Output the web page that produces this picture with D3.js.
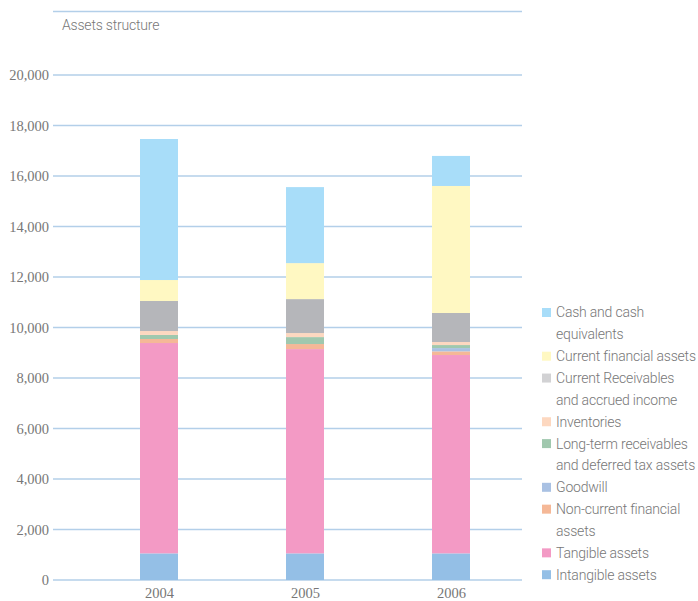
<!DOCTYPE html>
<html>
<head>
<meta charset="utf-8">
<script src="https://cdn.jsdelivr.net/npm/d3@7"></script>
<style>
  body { margin: 0; background: #fff; }
  svg { display: block; }
  .axis text { font-family: "Liberation Serif", serif; font-size: 14.5px; fill: #777; }
  .axis path, .axis line { display: none; }
  .legend text { font-family: Roboto, "Liberation Sans", sans-serif; font-weight: 300; font-size: 14px; letter-spacing: -0.2px; fill: #777; }
</style>
</head>
<body>
<svg id="chart" width="698" height="601"></svg>
<script>
const svg = d3.select('#chart')

const years = ['2004', '2005', '2006']

// stacked from bottom to top
const seriesNames = [
    'Intangible assets', 'Tangible assets', 'Non-current financial assets', 'Goodwill',
    'Long-term receivables and deferred tax assets', 'Inventories',
    'Current Receivables and accrued income', 'Current financial assets', 'Cash and cash equivalents'
]
const intangible = [1055, 1055, 1055]
const tangible = [8330, 8090, 7855]
const nonCurrentFinancial = [160, 200, 145]
const goodwill = [0, 0, 130]
const longTermReceivables = [160, 275, 120]
const inventories = [155, 160, 120]
const currentReceivables = [1190, 1345, 1150]
const currentFinancial = [830, 1425, 5030]
const cash = [5585, 3010, 1190]

const seriesValues = [intangible, tangible, nonCurrentFinancial, goodwill, longTermReceivables,
    inventories, currentReceivables, currentFinancial, cash]

const colors = ['#94bfe6', '#f39ac5', '#f5b897', '#a9c1e3', '#a0c8ae', '#fdd8c0', '#b5b6ba', '#fff8c2', '#a8ddf9']
const legendColors = ['#94bfe6', '#f39ac5', '#f5b897', '#a9c1e3', '#a0c8ae', '#fdd8c0', '#d2d2d4', '#fff8c2', '#a8ddf9']

// legend lines, top to bottom (series index, wrapped text)
const legendLines = [
    [8, ['Cash and cash', 'equivalents']],
    [7, ['Current financial assets']],
    [6, ['Current Receivables', 'and accrued income']],
    [5, ['Inventories']],
    [4, ['Long-term receivables', 'and deferred tax assets']],
    [3, ['Goodwill']],
    [2, ['Non-current financial', 'assets']],
    [1, ['Tangible assets']],
    [0, ['Intangible assets']]
]

const yTicks = [0, 2000, 4000, 6000, 8000, 10000, 12000, 14000, 16000, 18000, 20000]

const gridLeft = 53, gridRight = 522
const yScale = d3.scaleLinear().domain([0, 20000]).range([580, 75])
const xScale = d3.scalePoint().domain(years).range([159, 451])
const barWidth = 38

const table = years.map((y, i) => {
    const row = {year: y}
    seriesNames.forEach((s, j) => row[s] = seriesValues[j][i])
    return row
})
const stacked = d3.stack().keys(seriesNames)(table)

// title line + title
svg.append('line')
    .attr('x1', gridLeft).attr('x2', gridRight)
    .attr('y1', 11.5).attr('y2', 11.5)
    .attr('stroke', '#b3cfe9').attr('stroke-width', 1.5)
svg.append('text')
    .attr('x', 62).attr('y', 30)
    .attr('font-family', 'Roboto, "Liberation Sans", sans-serif')
    .attr('font-weight', 300)
    .attr('font-size', 14)
    .attr('letter-spacing', '-0.2px')
    .attr('fill', '#777')
    .text('Assets structure')

// gridlines
svg.append('g').selectAll('line').data(yTicks).enter().append('line')
    .attr('x1', gridLeft).attr('x2', gridRight)
    .attr('y1', d => yScale(d)).attr('y2', d => yScale(d))
    .attr('stroke', '#b3cfe9').attr('stroke-width', 1.5)

svg.append('g')
    .attr('class', 'axis')
    .attr('transform', `translate(${gridLeft},0)`)
    .call(d3.axisLeft(yScale).tickValues(yTicks).tickSize(0).tickPadding(4).tickFormat(d3.format(',')))

// bars
svg.append('g').selectAll('g').data(stacked).enter().append('g')
    .attr('fill', (d, i) => colors[i])
    .selectAll('rect').data(d => d).enter().append('rect')
    .attr('x', d => xScale(d.data.year) - barWidth / 2)
    .attr('width', barWidth)
    .attr('y', d => yScale(d[1]))
    .attr('height', d => yScale(d[0]) - yScale(d[1]))

svg.append('g')
    .attr('class', 'axis')
    .attr('transform', 'translate(0,582)')
    .call(d3.axisBottom(xScale).tickSize(0).tickPadding(6))

// legend
const legend = svg.append('g').attr('class', 'legend')
let line = 0
const lineH = 21.85
legendLines.forEach(([idx, texts]) => {
    const y = 312.5 + line * lineH
    legend.append('rect')
        .attr('x', 542).attr('y', y - 4.5)
        .attr('width', 9).attr('height', 9)
        .attr('fill', legendColors[idx])
    texts.forEach((t, k) => {
        legend.append('text')
            .attr('x', 556).attr('y', y + k * lineH)
            .attr('dy', '0.35em')
            .text(t)
    })
    line += texts.length
})
</script>
</body>
</html>
